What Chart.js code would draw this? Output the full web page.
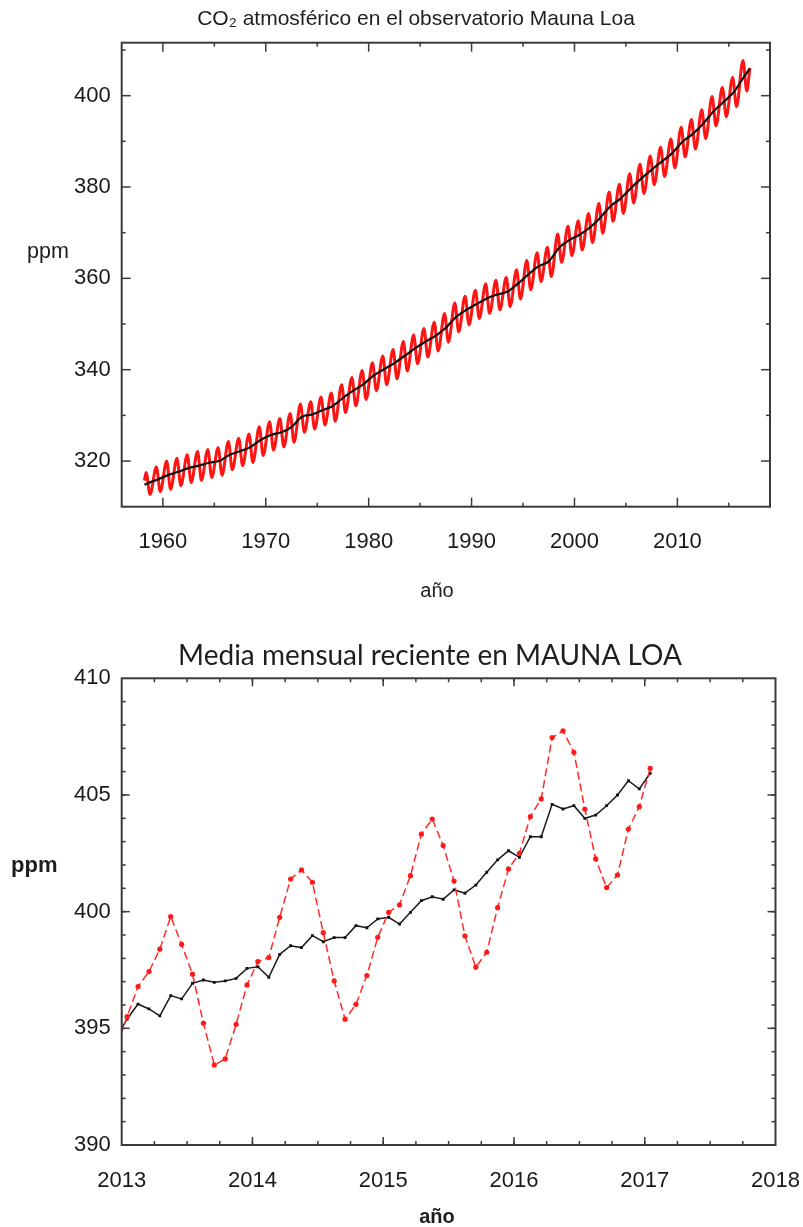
<!DOCTYPE html>
<html>
<head>
<meta charset="utf-8">
<title>CO₂ Mauna Loa</title>
<script src="https://cdn.jsdelivr.net/npm/chart.js@4.4.1/dist/chart.umd.min.js"></script>
<style>
  html, body { margin: 0; padding: 0; background: #fff; }
  #wrap { position: relative; width: 803px; height: 1227px; overflow: hidden; }
  canvas { position: absolute; left: 0; }
  #longTerm { top: 0; }
  #recent { top: 615px; }
</style>
</head>
<body>
<div id="wrap">
  <canvas id="longTerm" width="803" height="615"></canvas>
  <canvas id="recent" width="803" height="612"></canvas>
</div>
<script>
// ---------- Long record (1958-2017) ----------
const seasonYears = [
  1958, 1959, 1960, 1961, 1962, 1963, 1964, 1965, 1966, 1967,
  1968, 1969, 1970, 1971, 1972, 1973, 1974, 1975, 1976, 1977,
  1978, 1979, 1980, 1981, 1982, 1983, 1984, 1985, 1986, 1987,
  1988, 1989, 1990, 1991, 1992, 1993, 1994, 1995, 1996, 1997,
  1998, 1999, 2000, 2001, 2002, 2003, 2004, 2005, 2006, 2007,
  2008, 2009, 2010, 2011, 2012, 2013, 2014, 2015, 2016
];
// May maximum of each year (ppm)
const seasonPeaks = [
  317.5, 318.7, 320.0, 320.6, 321.4, 322.1, 322.5, 322.9, 324.3, 325.0,
  325.9, 327.5, 328.6, 329.3, 330.4, 332.5, 333.0, 334.0, 334.9, 336.7,
  338.3, 339.8, 341.5, 343.0, 344.4, 346.2, 347.6, 349.0, 350.4, 352.3,
  354.6, 356.1, 357.4, 358.8, 359.6, 360.2, 361.9, 363.9, 365.6, 366.8,
  369.7, 371.4, 372.6, 374.2, 376.4, 378.9, 380.6, 382.9, 385.0, 386.8,
  388.7, 390.5, 393.1, 394.8, 396.9, 399.8, 401.8, 404.0, 407.7
];
// autumn minimum of each year (ppm)
const seasonTroughs = [
  312.7, 313.3, 313.8, 314.6, 315.3, 315.8, 316.4, 316.9, 318.1, 319.0,
  319.7, 321.2, 322.4, 323.1, 324.1, 326.3, 327.0, 327.9, 328.7, 330.6,
  332.1, 333.5, 335.4, 336.7, 338.0, 339.7, 341.3, 342.8, 344.1, 346.0,
  348.3, 349.8, 351.2, 352.3, 353.1, 353.8, 355.5, 357.5, 359.3, 360.4,
  363.5, 365.0, 366.2, 367.8, 369.9, 372.5, 374.2, 376.5, 378.6, 380.5,
  382.3, 384.2, 386.6, 388.3, 390.6, 393.4, 395.4, 397.6, 401.0
];
// annual means used for the de-seasonalised trend (ppm)
const annualMeans = [
  315.1, 315.97, 316.91, 317.64, 318.45, 318.99, 319.62, 320.04, 321.38, 322.16,
  323.04, 324.62, 325.68, 326.32, 327.45, 329.68, 330.18, 331.11, 332.04, 333.83,
  335.40, 336.84, 338.75, 340.11, 341.45, 343.05, 344.65, 346.12, 347.42, 349.19,
  351.57, 353.12, 354.39, 355.61, 356.45, 357.10, 358.83, 360.82, 362.61, 363.73,
  366.70, 368.38, 369.55, 371.14, 373.28, 375.80, 377.52, 379.80, 381.90, 383.79,
  385.60, 387.43, 389.90, 391.65, 393.85, 396.52, 398.65, 400.83, 404.24
];
const recordStart = { date: 1958.21, monthly: 315.7, trend: 314.8 };
const recordEnd   = { date: 2017.04, monthly: 406.1, trend: 405.9 };
const PEAK_MONTH = 0.37, TROUGH_MONTH = 0.75, MID_YEAR = 0.5;

const longYearTicks = [1960, 1970, 1980, 1990, 2000, 2010];
const longPpmTicks  = [320, 340, 360, 380, 400];

// ---------- Recent monthly means (Dec 2012 - Jan 2017) ----------
const recentMonths = [
  '2012-12',
  '2013-01','2013-02','2013-03','2013-04','2013-05','2013-06','2013-07','2013-08','2013-09','2013-10','2013-11','2013-12',
  '2014-01','2014-02','2014-03','2014-04','2014-05','2014-06','2014-07','2014-08','2014-09','2014-10','2014-11','2014-12',
  '2015-01','2015-02','2015-03','2015-04','2015-05','2015-06','2015-07','2015-08','2015-09','2015-10','2015-11','2015-12',
  '2016-01','2016-02','2016-03','2016-04','2016-05','2016-06','2016-07','2016-08','2016-09','2016-10','2016-11','2016-12',
  '2017-01'
];
const recentMonthly = [
  394.2,
  395.50, 396.79, 397.43, 398.39, 399.79, 398.60, 397.32, 395.22, 393.43, 393.69, 395.17, 396.86,
  397.86, 398.03, 399.76, 401.40, 401.79, 401.26, 399.10, 397.03, 395.39, 396.03, 397.26, 398.90,
  399.97, 400.29, 401.54, 403.32, 403.97, 402.83, 401.31, 398.96, 397.62, 398.26, 400.17, 401.83,
  402.50, 404.07, 404.83, 407.46, 407.75, 406.83, 404.40, 402.26, 401.03, 401.57, 403.54, 404.50,
  406.14
];
const recentTrend = [
  394.6,
  395.40, 396.04, 395.83, 395.53, 396.40, 396.26, 396.93, 397.07, 396.97, 397.03, 397.14, 397.57,
  397.64, 397.19, 398.17, 398.54, 398.46, 398.97, 398.71, 398.89, 398.89, 399.40, 399.31, 399.69,
  399.76, 399.47, 399.97, 400.47, 400.64, 400.53, 400.93, 400.79, 401.14, 401.69, 402.22, 402.61,
  402.33, 403.21, 403.21, 404.60, 404.40, 404.54, 404.00, 404.14, 404.54, 405.00, 405.61, 405.26,
  405.93
];
const recentYearTicks = [2013, 2014, 2015, 2016, 2017, 2018];
const recentPpmTicks  = [390, 395, 400, 405, 410];

// ---------- series assembly ----------
const monthToYear = s => { const [y, m] = s.split('-').map(Number); return y + (m - 0.5) / 12; };

const longMonthly = [{ x: recordStart.date, y: recordStart.monthly }];
seasonYears.forEach((yr, i) => {
  longMonthly.push({ x: yr + PEAK_MONTH, y: seasonPeaks[i] });
  longMonthly.push({ x: yr + TROUGH_MONTH, y: seasonTroughs[i] });
});
longMonthly.push({ x: recordEnd.date, y: recordEnd.monthly });

const longTrend = [{ x: recordStart.date, y: recordStart.trend }];
seasonYears.forEach((yr, i) => longTrend.push({ x: yr + MID_YEAR, y: annualMeans[i] }));
longTrend.push({ x: recordEnd.date, y: recordEnd.trend });

const recentX = recentMonths.map(monthToYear);
const recentMonthlyPts = recentX.map((x, i) => ({ x, y: recentMonthly[i] }));
const recentTrendPts   = recentX.map((x, i) => ({ x, y: recentTrend[i] }));

// ---------- plugins: boxed frame with inward ticks, free captions ----------
const frameTicks = {
  id: 'frameTicks',
  afterDatasetsDraw(chart, args, o) {
    const { ctx, chartArea: a, scales: { x, y } } = chart;
    ctx.save();
    ctx.strokeStyle = o.color;
    ctx.lineWidth = o.tickWidth;
    const seg = (x1, y1, x2, y2) => { ctx.beginPath(); ctx.moveTo(x1, y1); ctx.lineTo(x2, y2); ctx.stroke(); };
    const xMarks = (vals, len) => vals.forEach(v => {
      const p = x.getPixelForValue(v);
      if (p <= a.left + 1 || p >= a.right - 1) return;
      seg(p, a.bottom, p, a.bottom - len);
      seg(p, a.top, p, a.top + len);
    });
    const yMarks = (vals, len) => vals.forEach(v => {
      const p = y.getPixelForValue(v);
      if (p <= a.top + 1 || p >= a.bottom - 1) return;
      seg(a.left, p, a.left + len, p);
      seg(a.right, p, a.right - len, p);
    });
    xMarks(o.xMinor, o.minorLen); xMarks(o.xMajor, o.majorLen);
    yMarks(o.yMinor, o.minorLen); yMarks(o.yMajor, o.majorLen);
    ctx.lineWidth = o.frameWidth;
    ctx.strokeRect(a.left, a.top, a.right - a.left, a.bottom - a.top);
    ctx.restore();
  }
};
const captions = {
  id: 'captions',
  afterDraw(chart, args, o) {
    const ctx = chart.ctx;
    o.items.forEach(it => {
      ctx.save();
      ctx.font = it.font;
      ctx.fillStyle = it.color || '#1e1e1e';
      ctx.textAlign = it.align || 'center';
      ctx.textBaseline = 'alphabetic';
      ctx.fillText(it.text, it.x, it.y);
      ctx.restore();
    });
  }
};

const range = (from, to, step) => { const out = []; for (let v = from; v <= to + 1e-9; v += step) out.push(+v.toFixed(4)); return out; };
const tickFont = { family: "'Liberation Sans', Arial, sans-serif", size: 22 };

function axes(opt) {
  return {
    x: {
      type: 'linear', min: opt.xMin, max: opt.xMax,
      grid: { display: false, drawTicks: false }, border: { display: false },
      afterBuildTicks: s => { s.ticks = opt.xTicks.map(v => ({ value: v })); },
      afterFit: s => { s.height = opt.xHeight; s.paddingLeft = 0; s.paddingRight = 0; },
      ticks: { font: tickFont, color: '#1a1a1a', padding: opt.xPad, maxRotation: 0, autoSkip: false,
               callback: v => String(v) }
    },
    y: {
      type: 'linear', min: opt.yMin, max: opt.yMax,
      grid: { display: false, drawTicks: false }, border: { display: false },
      afterBuildTicks: s => { s.ticks = opt.yTicks.map(v => ({ value: v })); },
      afterFit: s => { s.width = opt.yWidth; s.paddingTop = 0; s.paddingBottom = 0; },
      ticks: { font: tickFont, color: '#1a1a1a', padding: opt.yPad, autoSkip: false,
               callback: v => String(v) }
    }
  };
}

Chart.defaults.animation = false;

// ---------- upper panel ----------
new Chart(document.getElementById('longTerm'), {
  type: 'line',
  data: {
    datasets: [
      { label: 'tendencia', data: longTrend, order: 0, borderColor: '#111', borderWidth: 2.2,
        pointRadius: 0, cubicInterpolationMode: 'monotone' },
      { label: 'media mensual', data: longMonthly, order: 1, borderColor: '#ff1414', borderWidth: 3,
        pointRadius: 0, cubicInterpolationMode: 'monotone' }
    ]
  },
  options: {
    responsive: false, devicePixelRatio: 1,
    layout: { padding: { left: 0, right: 33, top: 42.7, bottom: 0 } },
    scales: axes({ xMin: 1956, xMax: 2019, xTicks: longYearTicks, xHeight: 108.3, xPad: 22,
                   yMin: 310, yMax: 411.6, yTicks: longPpmTicks, yWidth: 121.7, yPad: 11 }),
    plugins: {
      legend: { display: false }, tooltip: { enabled: false },
      frameTicks: { color: '#3a3a3a', tickWidth: 1.5, frameWidth: 2, majorLen: 9, minorLen: 4,
                    xMajor: longYearTicks, xMinor: range(1965, 2015, 10),
                    yMajor: longPpmTicks, yMinor: range(330, 410, 20) },
      captions: { items: [
        { text: 'CO₂ atmosférico en el observatorio Mauna Loa', x: 416, y: 25,
          font: "21px 'Liberation Sans', Arial, sans-serif" },
        { text: 'ppm', x: 27, y: 258, align: 'left', font: "21.5px 'Liberation Sans', Arial, sans-serif" },
        { text: 'año', x: 437, y: 597, font: "20px 'Liberation Sans', Arial, sans-serif" }
      ] }
    }
  },
  plugins: [frameTicks, captions]
});

// ---------- lower panel ----------
new Chart(document.getElementById('recent'), {
  type: 'line',
  data: {
    datasets: [
      { label: 'media mensual', data: recentMonthlyPts, order: 0, borderColor: '#ff2b2b', borderWidth: 1.5,
        borderDash: [8, 4], pointStyle: 'circle', pointRadius: 2.6, pointBackgroundColor: '#ff1a1a',
        pointBorderWidth: 0, tension: 0 },
      { label: 'tendencia', data: recentTrendPts, order: 1, borderColor: '#1a1a1a', borderWidth: 1.5,
        pointStyle: 'rect', pointRadius: 2, pointBackgroundColor: '#111', pointBorderWidth: 0, tension: 0 }
    ]
  },
  options: {
    responsive: false, devicePixelRatio: 1,
    layout: { padding: { left: 0, right: 27.5, top: 63.3, bottom: 0 } },
    scales: axes({ xMin: 2013, xMax: 2018, xTicks: recentYearTicks, xHeight: 82, xPad: 23,
                   yMin: 390, yMax: 410, yTicks: recentPpmTicks, yWidth: 121.7, yPad: 11 }),
    plugins: {
      legend: { display: false }, tooltip: { enabled: false },
      frameTicks: { color: '#3a3a3a', tickWidth: 1.5, frameWidth: 2, majorLen: 8, minorLen: 4,
                    xMajor: recentYearTicks, xMinor: range(2013.25, 2017.75, 0.25),
                    yMajor: recentPpmTicks, yMinor: range(391, 409, 1) },
      captions: { items: [
        { text: 'Media mensual reciente en MAUNA LOA', x: 430, y: 50,
          font: "28px Lato, 'Open Sans', sans-serif" },
        { text: 'ppm', x: 11, y: 257, align: 'left', font: "bold 22px 'Liberation Sans', Arial, sans-serif" },
        { text: 'año', x: 437, y: 608, font: "bold 20px 'Liberation Sans', Arial, sans-serif" }
      ] }
    }
  },
  plugins: [frameTicks, captions]
});
</script>
</body>
</html>
